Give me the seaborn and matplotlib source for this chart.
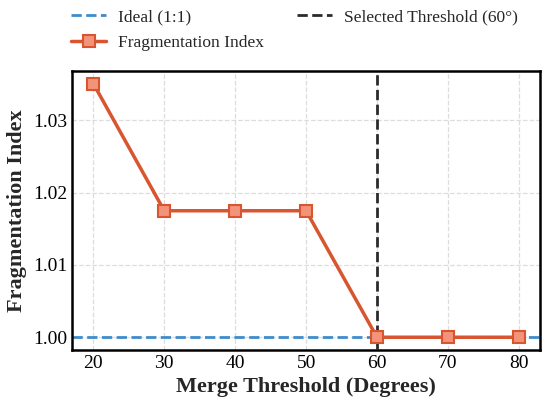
import seaborn as sns
import numpy as np
import pandas as pd
import matplotlib
matplotlib.use("Agg")
import matplotlib.pyplot as plt

thresholds = [20, 30, 40, 50, 60, 70, 80]
frag_index = [1.0351, 1.0175, 1.0175, 1.0175, 1.0, 1.0, 1.0]
ideal_value = 1.0
selected = 60

sns.set_style("white")
plt.rcParams["font.family"] = ["Liberation Serif", "DejaVu Serif"]
plt.rcParams["xtick.direction"] = "in"
plt.rcParams["ytick.direction"] = "in"

df = pd.DataFrame({"threshold": thresholds, "frag": frag_index})

fig = plt.figure(figsize=(5.5, 4.05), dpi=100)
ax = fig.add_axes([0.131, 0.136, 0.851, 0.689])

ax.axhline(ideal_value, color="#3f8ccb", linestyle="--", linewidth=2, label="Ideal (1:1)", zorder=2)
sns.lineplot(data=df, x="threshold", y="frag", ax=ax, color="#d8552f", linewidth=2.5,
             marker="s", markersize=9, markerfacecolor="#f3937a", markeredgecolor="#d8552f",
             markeredgewidth=1.5, label="Fragmentation Index", zorder=4)
ax.axvline(selected, color="#2b2b2b", linestyle="--", linewidth=2, label="Selected Threshold (60°)", zorder=3)

ax.set_xticks(thresholds)
ax.set_yticks([1.00, 1.01, 1.02, 1.03])
ax.yaxis.set_major_formatter(matplotlib.ticker.FormatStrFormatter("%.2f"))
ax.tick_params(labelsize=14, length=5, width=1.2, colors="black")
ax.grid(True, linestyle="--", color="#dddddd", linewidth=0.9)
for s in ax.spines.values():
    s.set_linewidth(1.8)
    s.set_color("black")

ax.set_xlabel("Merge Threshold (Degrees)", fontsize=16, fontweight="bold")
ax.set_ylabel("Fragmentation Index", fontsize=16, fontweight="bold")

handles, labels = ax.get_legend_handles_labels()
order = [labels.index("Ideal (1:1)"), labels.index("Fragmentation Index"),
         labels.index("Selected Threshold (60°)")]
ax.legend([handles[i] for i in order], [labels[i] for i in order], ncol=2, frameon=False,
          fontsize=12.5, loc="lower left", bbox_to_anchor=(-0.035, 1.015), columnspacing=1.9,
          handlelength=2.0, handletextpad=0.7, labelspacing=0.55)

fig.savefig("out.png", dpi=100)
